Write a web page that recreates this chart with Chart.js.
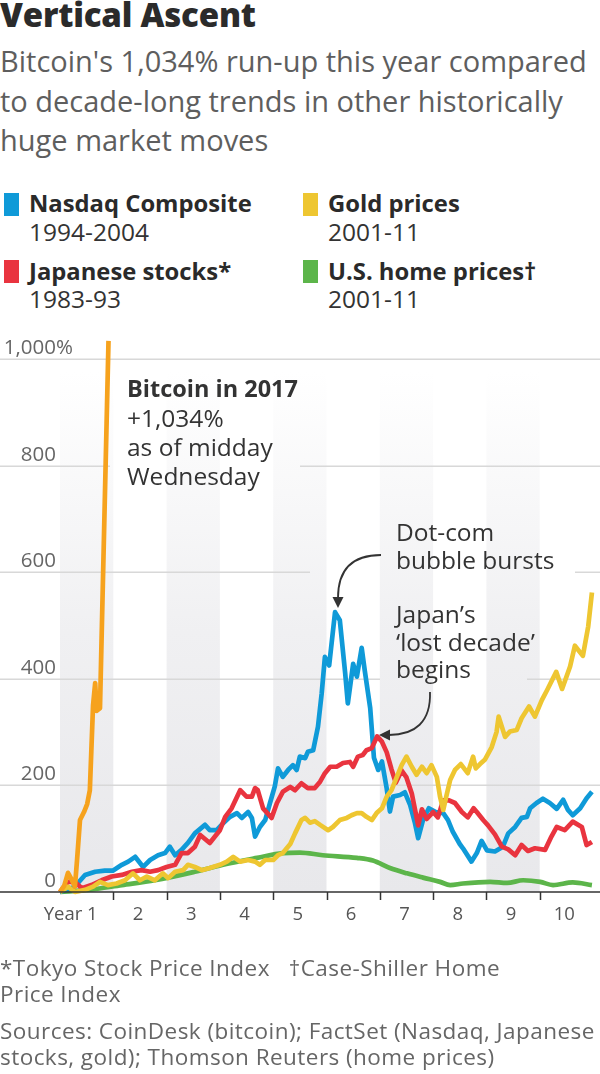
<!DOCTYPE html>
<html><head><meta charset="utf-8">
<script src="https://cdn.jsdelivr.net/npm/chart.js@4.4.0/dist/chart.umd.min.js"></script>
<style>
html,body{margin:0;padding:0;background:#fff;}
body{width:600px;height:1074px;position:relative;overflow:hidden;font-family:"Open Sans",Lato,sans-serif;}
.t{position:absolute;white-space:nowrap;}
#title{left:0;top:-4.5px;font-size:33px;font-weight:800;color:#2b2b2b;line-height:37px;letter-spacing:-0.2px;}
#sub{left:0;top:41px;font-size:29px;line-height:39.5px;color:#5e5e5e;}
.sq{position:absolute;width:15px;height:23px;}
.lg{font-size:24.5px;line-height:28.5px;color:#333;}
.lg b{font-weight:700;font-size:23.8px;color:#2a2a2a;}
.ann{font-size:24.5px;line-height:27.5px;color:#333;}
#btc{left:127px;top:373px;font-size:24.5px;line-height:29px;color:#333;}
#btc b{font-weight:700;font-size:23.5px;}
.foot{left:0;font-size:22.5px;line-height:26px;color:#666;letter-spacing:0.45px;}
#c{position:absolute;left:0;top:330px;}
svg{position:absolute;left:0;top:0;}
</style></head>
<body>
<div class="t" id="title">Vertical Ascent</div>
<div class="t" id="sub">Bitcoin's 1,034% run-up this year compared<br>to decade-long trends in other historically<br>huge market moves</div>

<div class="sq" style="left:4px;top:193px;background:#0f9ad8"></div>
<div class="t lg" style="left:29px;top:189px"><b>Nasdaq Composite</b><br>1994-2004</div>
<div class="sq" style="left:303px;top:193px;background:#eec631"></div>
<div class="t lg" style="left:328px;top:189px"><b>Gold prices</b><br>2001-11</div>
<div class="sq" style="left:4px;top:260px;background:#e9343f"></div>
<div class="t lg" style="left:29px;top:256.5px"><b>Japanese stocks*</b><br>1983-93</div>
<div class="sq" style="left:303px;top:260px;background:#5cb54a"></div>
<div class="t lg" style="left:328px;top:256.5px"><b>U.S. home prices†</b><br>2001-11</div>

<canvas id="c" width="600" height="600"></canvas>

<div class="t" id="btc"><b>Bitcoin in 2017</b><br>+1,034%<br>as of midday<br>Wednesday</div>
<div class="t ann" style="left:396px;top:518px">Dot-com<br>bubble bursts</div>
<div class="t ann" style="left:396px;top:600px">Japan’s<br>‘lost decade’<br>begins</div>

<svg width="600" height="1074" viewBox="0 0 600 1074">
  <path d="M381 555 C 352 555, 338 570, 338 598" fill="none" stroke="#333" stroke-width="1.8"/>
  <path d="M332.5 597 L343.5 597 L338 608 Z" fill="#333"/>
  <path d="M430 692 C 431 722, 415 735, 389 735" fill="none" stroke="#333" stroke-width="1.8"/>
  <path d="M390 729.5 L390 740.5 L379 735 Z" fill="#333"/>
</svg>

<div class="t foot" style="top:955px">*Tokyo Stock Price Index &nbsp; †Case-Shiller Home<br>Price Index</div>
<div class="t foot" style="top:1018px">Sources: CoinDesk (bitcoin); FactSet (Nasdaq, Japanese<br>stocks, gold); Thomson Reuters (home prices)</div>

<script>
// ---------- DATA (years from start, % change) ----------
const bitcoinYears  = [0,0.08,0.15,0.21,0.28,0.32,0.375,0.45,0.51,0.56,0.62,0.66,0.69,0.75,0.91];
const bitcoinValues = [0,12,36,25,10,60,135,150,165,191,350,392,340,345,1034];

const nasdaqYears  = [0,0.23,0.32,0.47,0.66,0.84,0.99,1.16,1.28,1.41,1.56,1.69,1.84,1.97,2.06,2.16,2.28,2.40,2.53,2.72,2.81,2.94,3.06,3.19,3.32,3.41,3.53,3.60,3.66,3.75,3.85,3.94,4.03,4.09,4.18,4.28,4.37,4.44,4.50,4.60,4.65,4.75,4.84,4.91,4.97,5.05,5.16,5.25,5.35,5.40,5.50,5.57,5.66,5.72,5.82,5.89,5.97,6.04,6.13,6.19,6.25,6.38,6.47,6.57,6.66,6.72,6.81,6.92,7.05,7.19,7.28,7.37,7.50,7.56,7.72,7.82,7.91,8.01,8.16,8.31,8.41,8.54,8.66,8.76,8.82,8.94,9.06,9.19,9.32,9.44,9.53,9.62,9.76,9.88,9.98];
const nasdaqValues = [0,8,15,32,38,40,40,51,57,66,47,60,69,73,85,69,79,92,110,126,116,116,129,141,148,139,150,139,104,122,135,167,198,232,216,229,238,229,254,251,263,266,310,373,441,425,525,510,411,354,428,404,458,414,345,252,229,245,194,151,179,182,187,163,129,101,135,157,150,148,135,113,90,82,57,73,96,78,76,85,110,122,139,141,157,167,175,167,156,173,154,144,157,176,188];

const japanYears  = [0,0.15,0.28,0.41,0.59,0.78,0.97,1.16,1.35,1.53,1.69,1.84,2.00,2.16,2.28,2.40,2.53,2.63,2.81,3.00,3.10,3.22,3.38,3.50,3.60,3.66,3.71,3.81,3.97,4.07,4.18,4.32,4.41,4.53,4.65,4.78,4.88,4.97,5.07,5.19,5.31,5.44,5.50,5.59,5.68,5.75,5.85,5.95,6.04,6.13,6.22,6.30,6.41,6.50,6.60,6.72,6.79,6.88,7.00,7.09,7.19,7.30,7.41,7.54,7.65,7.76,7.82,7.94,8.03,8.16,8.29,8.41,8.54,8.66,8.78,8.91,9.10,9.22,9.32,9.47,9.62,9.79,9.88,9.98];
const japanValues = [0,19,19,7,13,22,29,32,38,41,38,41,47,51,73,73,85,107,92,116,141,157,191,179,179,195,191,157,139,167,188,197,191,204,195,195,207,223,235,235,242,244,235,254,257,266,270,292,282,262,230,205,228,215,185,125,155,137,150,140,172,172,167,150,140,157,150,135,125,108,85,80,69,88,77,82,79,104,122,116,132,122,88,94];

const goldYears  = [0,0.15,0.28,0.47,0.62,0.75,0.90,1.06,1.22,1.37,1.50,1.63,1.78,1.93,2.03,2.16,2.31,2.40,2.53,2.66,2.81,3.00,3.13,3.25,3.38,3.53,3.66,3.75,3.85,4.00,4.09,4.18,4.32,4.41,4.53,4.60,4.69,4.78,4.88,5.03,5.12,5.25,5.38,5.47,5.57,5.66,5.75,5.85,5.94,6.04,6.13,6.22,6.32,6.41,6.50,6.60,6.69,6.79,6.88,6.97,7.07,7.13,7.19,7.26,7.32,7.41,7.52,7.65,7.75,7.80,7.88,7.97,8.10,8.19,8.23,8.35,8.44,8.57,8.66,8.80,8.91,9.04,9.14,9.31,9.42,9.57,9.66,9.81,9.91,9.98];
const goldValues = [0,10,0,4,10,19,13,16,22,35,22,29,22,35,26,38,41,51,47,41,45,51,57,66,57,60,57,51,60,60,69,73,90,110,135,139,130,133,126,116,122,135,139,144,148,148,141,135,148,157,179,191,216,238,254,235,220,235,223,238,216,179,154,185,210,229,240,223,254,232,240,248,272,300,329,291,301,304,326,348,329,360,379,413,381,423,462,443,498,562];

const homeYears  = [0,0.53,1.16,1.78,2.53,3.06,3.70,4.18,4.50,4.93,5.57,5.87,6.19,6.51,6.81,7.13,7.32,7.56,8.07,8.39,8.69,9.01,9.25,9.62,9.98];
const homeValues = [0,4,13,22,38,51,64,73,74,69,64,59,45,35,27,19,13,16,19,17,22,19,13,18,13];

const yTickValues = [0,200,400,600,800,1000];
const xTickLabels = ['Year 1','2','3','4','5','6','7','8','9','10'];
const shadedYears = [1,3,5,7,9];

// ---------- layout / style ----------
const gridGaps = {800:[[110,300]],600:[[310,575]],400:[[380,527]]};
const pts = (xs, ys) => xs.map((v,i)=>({x:v, y:ys[i]}));

const decor = {
  id:'decor',
  beforeDatasetsDraw(chart){
    const {ctx, chartArea:a, scales:{x,y}} = chart;
    ctx.save();
    const top = a.top + 12;
    const g = ctx.createLinearGradient(0, a.bottom, 0, top);
    g.addColorStop(0,'#e8e8eb'); g.addColorStop(0.5,'#f0f0f2'); g.addColorStop(1,'#ffffff');
    ctx.fillStyle = g;
    shadedYears.forEach(k=>{
      const x0 = x.getPixelForValue(k-1), x1 = x.getPixelForValue(k);
      ctx.fillRect(x0, top, x1-x0, a.bottom-top);
    });
    ctx.strokeStyle = '#d8d8d8'; ctx.lineWidth = 1.5;
    yTickValues.filter(v=>v>0).forEach(v=>{
      const py = Math.round(y.getPixelForValue(v)) + 0.25;
      const gaps = gridGaps[v] || [];
      let segs = [[0,600]];
      gaps.forEach(([g0,g1])=>{
        const n=[]; segs.forEach(([s0,s1])=>{ if(g1<=s0||g0>=s1){n.push([s0,s1]);} else { if(g0>s0) n.push([s0,g0]); if(g1<s1) n.push([g1,s1]); } });
        segs=n;
      });
      segs.forEach(([s0,s1])=>{ ctx.beginPath(); ctx.moveTo(s0,py); ctx.lineTo(s1,py); ctx.stroke(); });
    });
    ctx.fillStyle = '#666'; ctx.font = '20.5px "Open Sans", sans-serif'; ctx.textBaseline = 'alphabetic';
    yTickValues.forEach(v=>{
      const py = y.getPixelForValue(v) - 5;
      ctx.textAlign = 'right';
      ctx.fillText(v>=1000 ? v.toLocaleString('en-US') : String(v), 56, py);
      if (v === 1000){ ctx.textAlign='left'; ctx.fillText('%', 56, py); }
    });
    ctx.restore();
  },
  afterDatasetsDraw(chart){
    const {ctx, scales:{x,y}} = chart;
    ctx.save();
    const py = y.getPixelForValue(0);
    ctx.strokeStyle = '#333'; ctx.lineWidth = 1.5;
    ctx.beginPath(); ctx.moveTo(0, py); ctx.lineTo(600, py); ctx.stroke();
    for (let k=1;k<=9;k++){
      const px = Math.round(x.getPixelForValue(k)) + 0.5;
      ctx.beginPath(); ctx.moveTo(px, py); ctx.lineTo(px, py+8); ctx.stroke();
    }
    ctx.fillStyle = '#555'; ctx.font = '18.5px "Open Sans", sans-serif'; ctx.textBaseline='alphabetic';
    xTickLabels.forEach((lab,i)=>{
      const c = x.getPixelForValue(i+0.5);
      if (i===0){ ctx.textAlign='right'; ctx.fillText(lab, c+11, py+28); }
      else { ctx.textAlign='center'; ctx.fillText(lab, c-2, py+28); }
    });
    ctx.restore();
  }
};

const ds = (label, xs, ys, color, order, extra={}) => Object.assign({
  label, data: pts(xs, ys), borderColor: color, backgroundColor: color,
  borderWidth: 4.7, pointRadius: 0, tension: 0, borderJoinStyle: 'round',
  clip: false, order
}, extra);

new Chart(document.getElementById('c'), {
  type: 'line',
  data: { datasets: [
    ds('Bitcoin 2017', bitcoinYears, bitcoinValues, '#f6a21d', 0),
    ds('Gold prices 2001-11', goldYears, goldValues, '#eec631', 1),
    ds('Japanese stocks 1983-93', japanYears, japanValues, '#e9343f', 2),
    ds('Nasdaq Composite 1994-2004', nasdaqYears, nasdaqValues, '#0f9ad8', 3),
    ds('U.S. home prices 2001-11', homeYears, homeValues, '#5cb54a', 4, {cubicInterpolationMode:'monotone'})
  ]},
  options: {
    responsive: false, animation: false, events: [],
    layout: { padding: { left: 60, right: 7, top: 29, bottom: 38 } },
    plugins: { legend: { display: false }, tooltip: { enabled: false } },
    scales: {
      x: { type: 'linear', min: 0, max: 10, display: false },
      y: { type: 'linear', min: 0, max: 1000, display: false }
    }
  },
  plugins: [decor]
});
</script>
</body></html>
